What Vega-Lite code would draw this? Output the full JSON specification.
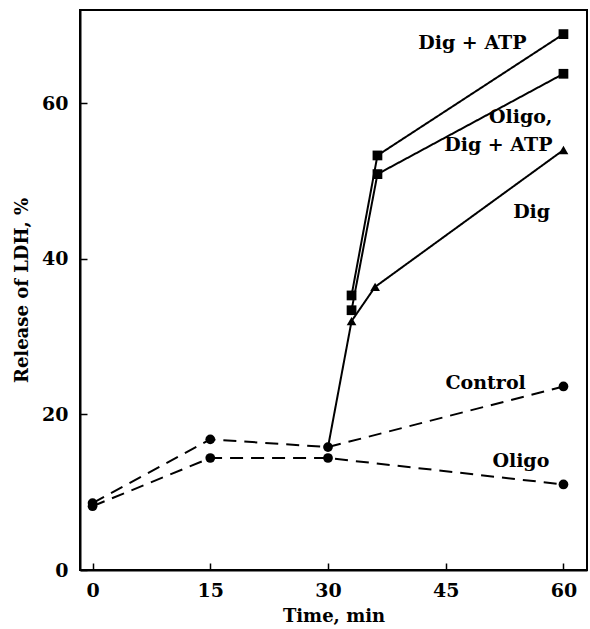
{
  "$schema": "https://vega.github.io/schema/vega-lite/v6.json",
  "width": 507,
  "height": 560,
  "autosize": "none",
  "padding": {"left": 80, "top": 10, "right": 3, "bottom": 59},
  "background": "white",
  "config": {
    "view": {"stroke": "black", "strokeWidth": 2},
    "font": "DejaVu Serif",
    "axis": {
      "grid": false,
      "domainColor": "black",
      "domainWidth": 2,
      "tickColor": "black",
      "tickWidth": 1.5,
      "tickSize": -7,
      "labelFont": "DejaVu Serif",
      "labelFontSize": 19,
      "labelFontWeight": "bold",
      "labelColor": "black",
      "titleFont": "DejaVu Serif",
      "titleFontSize": 18,
      "titleFontWeight": "bold",
      "titleColor": "black"
    }
  },
  "datasets": {
    "series": [
      {"series": "Control", "time": 0, "value": 8.6},
      {"series": "Control", "time": 15, "value": 16.8},
      {"series": "Control", "time": 30, "value": 15.8},
      {"series": "Control", "time": 60, "value": 23.6},
      {"series": "Oligo", "time": 0, "value": 8.2},
      {"series": "Oligo", "time": 15, "value": 14.4},
      {"series": "Oligo", "time": 30, "value": 14.4},
      {"series": "Oligo", "time": 60, "value": 11.0},
      {"series": "Dig", "time": 30, "value": 15.8},
      {"series": "Dig", "time": 33, "value": 32.0},
      {"series": "Dig", "time": 36, "value": 36.4},
      {"series": "Dig", "time": 60, "value": 54.0},
      {"series": "Dig + ATP", "time": 33, "value": 35.3},
      {"series": "Dig + ATP", "time": 36.3, "value": 53.3},
      {"series": "Dig + ATP", "time": 60, "value": 68.9},
      {"series": "Oligo, Dig + ATP", "time": 33, "value": 33.4},
      {"series": "Oligo, Dig + ATP", "time": 36.3, "value": 50.9},
      {"series": "Oligo, Dig + ATP", "time": 60, "value": 63.8}
    ],
    "labels": [
      {"line1": "Dig + ATP", "time": 41.5, "value": 67.8, "align": "left"},
      {"line1": "Oligo,", "time": 58.6, "value": 58.3, "align": "right"},
      {"line1": "Dig + ATP", "time": 58.6, "value": 54.7, "align": "right"},
      {"line1": "Dig", "time": 58.3, "value": 46.0, "align": "right"},
      {"line1": "Control", "time": 55.2, "value": 24.1, "align": "right"},
      {"line1": "Oligo", "time": 58.2, "value": 14.0, "align": "right"}
    ]
  },
  "layer": [
    {
      "data": {"name": "series"},
      "mark": {"type": "line", "color": "black", "strokeWidth": 2},
      "encoding": {
        "x": {
          "field": "time", "type": "quantitative",
          "scale": {"domain": [-1.6, 63], "nice": false, "zero": false},
          "axis": {"values": [0, 15, 30, 45, 60], "title": "Time, min", "labelPadding": 18, "titlePadding": 7}
        },
        "y": {
          "field": "value", "type": "quantitative",
          "scale": {"domain": [0, 72], "nice": false},
          "axis": {"values": [0, 20, 40, 60], "title": "Release of LDH, %", "labelPadding": 19, "titlePadding": 10}
        },
        "detail": {"field": "series"},
        "strokeDash": {
          "field": "series", "type": "nominal",
          "scale": {
            "domain": ["Control", "Oligo", "Dig", "Dig + ATP", "Oligo, Dig + ATP"],
            "range": [[13, 8], [13, 8], [1, 0], [1, 0], [1, 0]]
          },
          "legend": null
        },
        "order": {"field": "time", "type": "quantitative"}
      }
    },
    {
      "data": {"name": "series"},
      "transform": [
        {"filter": "datum.series == 'Control' || datum.series == 'Oligo' || datum.time > 30"}
      ],
      "mark": {"type": "point", "filled": true, "color": "black", "opacity": 1},
      "encoding": {
        "x": {"field": "time", "type": "quantitative"},
        "y": {"field": "value", "type": "quantitative"},
        "shape": {
          "field": "series", "type": "nominal",
          "scale": {
            "domain": ["Control", "Oligo", "Dig", "Dig + ATP", "Oligo, Dig + ATP"],
            "range": ["circle", "circle", "triangle-up", "square", "square"]
          },
          "legend": null
        },
        "size": {
          "field": "series", "type": "nominal",
          "scale": {
            "domain": ["Control", "Oligo", "Dig", "Dig + ATP", "Oligo, Dig + ATP"],
            "range": [95, 95, 110, 85, 85]
          },
          "legend": null
        }
      }
    },
    {
      "data": {"name": "labels"},
      "transform": [{"filter": "datum.align == 'left'"}],
      "mark": {"type": "text", "align": "left", "baseline": "middle", "font": "DejaVu Serif", "fontSize": 19, "fontWeight": "bold", "color": "black"},
      "encoding": {
        "x": {"field": "time", "type": "quantitative"},
        "y": {"field": "value", "type": "quantitative"},
        "text": {"field": "line1"}
      }
    },
    {
      "data": {"name": "labels"},
      "transform": [{"filter": "datum.align == 'right'"}],
      "mark": {"type": "text", "align": "right", "baseline": "middle", "font": "DejaVu Serif", "fontSize": 19, "fontWeight": "bold", "color": "black"},
      "encoding": {
        "x": {"field": "time", "type": "quantitative"},
        "y": {"field": "value", "type": "quantitative"},
        "text": {"field": "line1"}
      }
    }
  ]
}
